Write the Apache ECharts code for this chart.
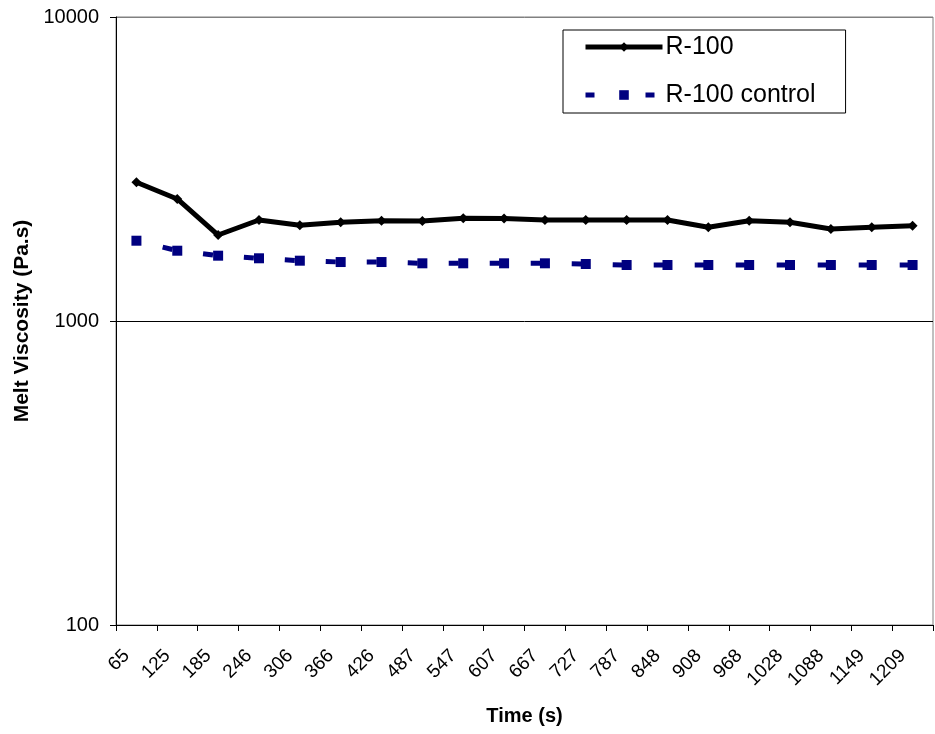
<!DOCTYPE html>
<html>
<head>
<meta charset="utf-8">
<script src="https://cdn.jsdelivr.net/npm/echarts@6/dist/echarts.min.js"></script>
<style>html,body{margin:0;padding:0;background:#fff}#c{width:935px;height:734px}</style>
</head>
<body>
<div id="c"></div>
<script>
const categories = ['65','125','185','246','306','366','426','487','547','607','667','727','787','848','908','968','1028','1088','1149','1209'];
const r100 = [2860, 2520, 1918, 2149, 2064, 2112, 2138, 2133, 2177, 2174, 2149, 2149, 2149, 2149, 2033, 2138, 2112, 2007, 2033, 2058];
const r100Control = [1837, 1703, 1640, 1608, 1579, 1563, 1563, 1548, 1548, 1548, 1548, 1540, 1528, 1528, 1528, 1528, 1528, 1528, 1528, 1528];
const seriesNames = ['R-100', 'R-100 control'];

const FONT = 'Liberation Sans, Arial, sans-serif';
const chart = echarts.init(document.getElementById('c'), null, {renderer: 'canvas'});
chart.setOption({
  backgroundColor: '#fff',
  animation: false,
  textStyle: {fontFamily: FONT},
  grid: {left: 116, right: 2, top: 17, bottom: 109, show: true, borderColor: '#808080', borderWidth: 1, backgroundColor: '#fff'},
  legend: {
    orient: 'vertical',
    left: 563, top: 30,
    padding: [4, 30, 5, 20],
    itemWidth: 77, itemHeight: 12, itemGap: 22,
    borderColor: '#000', borderWidth: 1,
    backgroundColor: '#fff',
    textStyle: {fontFamily: FONT, fontSize: 25, color: '#000', padding: [0,0,0,-2], lineHeight: 26},
    data: [
      {name: seriesNames[0], lineStyle: {width: 5}},
      {name: seriesNames[1], lineStyle: {width: 5, type: [9, 51], dashOffset: 0}}
    ]
  },
  xAxis: {
    type: 'category',
    data: categories,
    boundaryGap: true,
    name: 'Time (s)',
    nameLocation: 'middle',
    nameGap: 81,
    nameTextStyle: {fontFamily: FONT, fontSize: 20, fontWeight: 'bold', color: '#000'},
    axisLine: {show: true, lineStyle: {color: '#000', width: 1}},
    axisTick: {show: true, length: 6, lineStyle: {color: '#000'}},
    axisLabel: {rotate: 45, interval: 0, margin: 18, fontSize: 19, color: '#000', fontFamily: FONT, padding: [0, 14, 0, 0]},
    splitLine: {show: false}
  },
  yAxis: {
    type: 'log',
    logBase: 10,
    min: 100, max: 10000,
    name: 'Melt Viscosity (Pa.s)',
    nameLocation: 'middle',
    nameGap: 82,
    nameTextStyle: {fontFamily: FONT, fontSize: 21, fontWeight: 'bold', color: '#000'},
    axisLine: {show: true, lineStyle: {color: '#000', width: 1}},
    axisTick: {show: true, length: 6, lineStyle: {color: '#000'}},
    axisLabel: {margin: 17, fontSize: 20, color: '#000', fontFamily: FONT, formatter: v => String(Math.round(v))},
    splitLine: {show: true, lineStyle: {color: ['#000', '#000', '#808080'], width: 1}},
    minorTick: {show: false}
  },
  series: [
    {
      name: seriesNames[0], type: 'line', data: r100,
      symbol: 'diamond', symbolSize: 10,
      lineStyle: {color: '#000', width: 5},
      itemStyle: {color: '#000'},
      z: 3
    },
    {
      name: seriesNames[1], type: 'line', data: r100Control,
      symbol: 'rect', symbolSize: 10,
      lineStyle: {color: '#000080', width: 5, type: [10, 31], dashOffset: 14},
      itemStyle: {color: '#000080'},
      z: 2
    }
  ]
});
</script>
</body>
</html>
